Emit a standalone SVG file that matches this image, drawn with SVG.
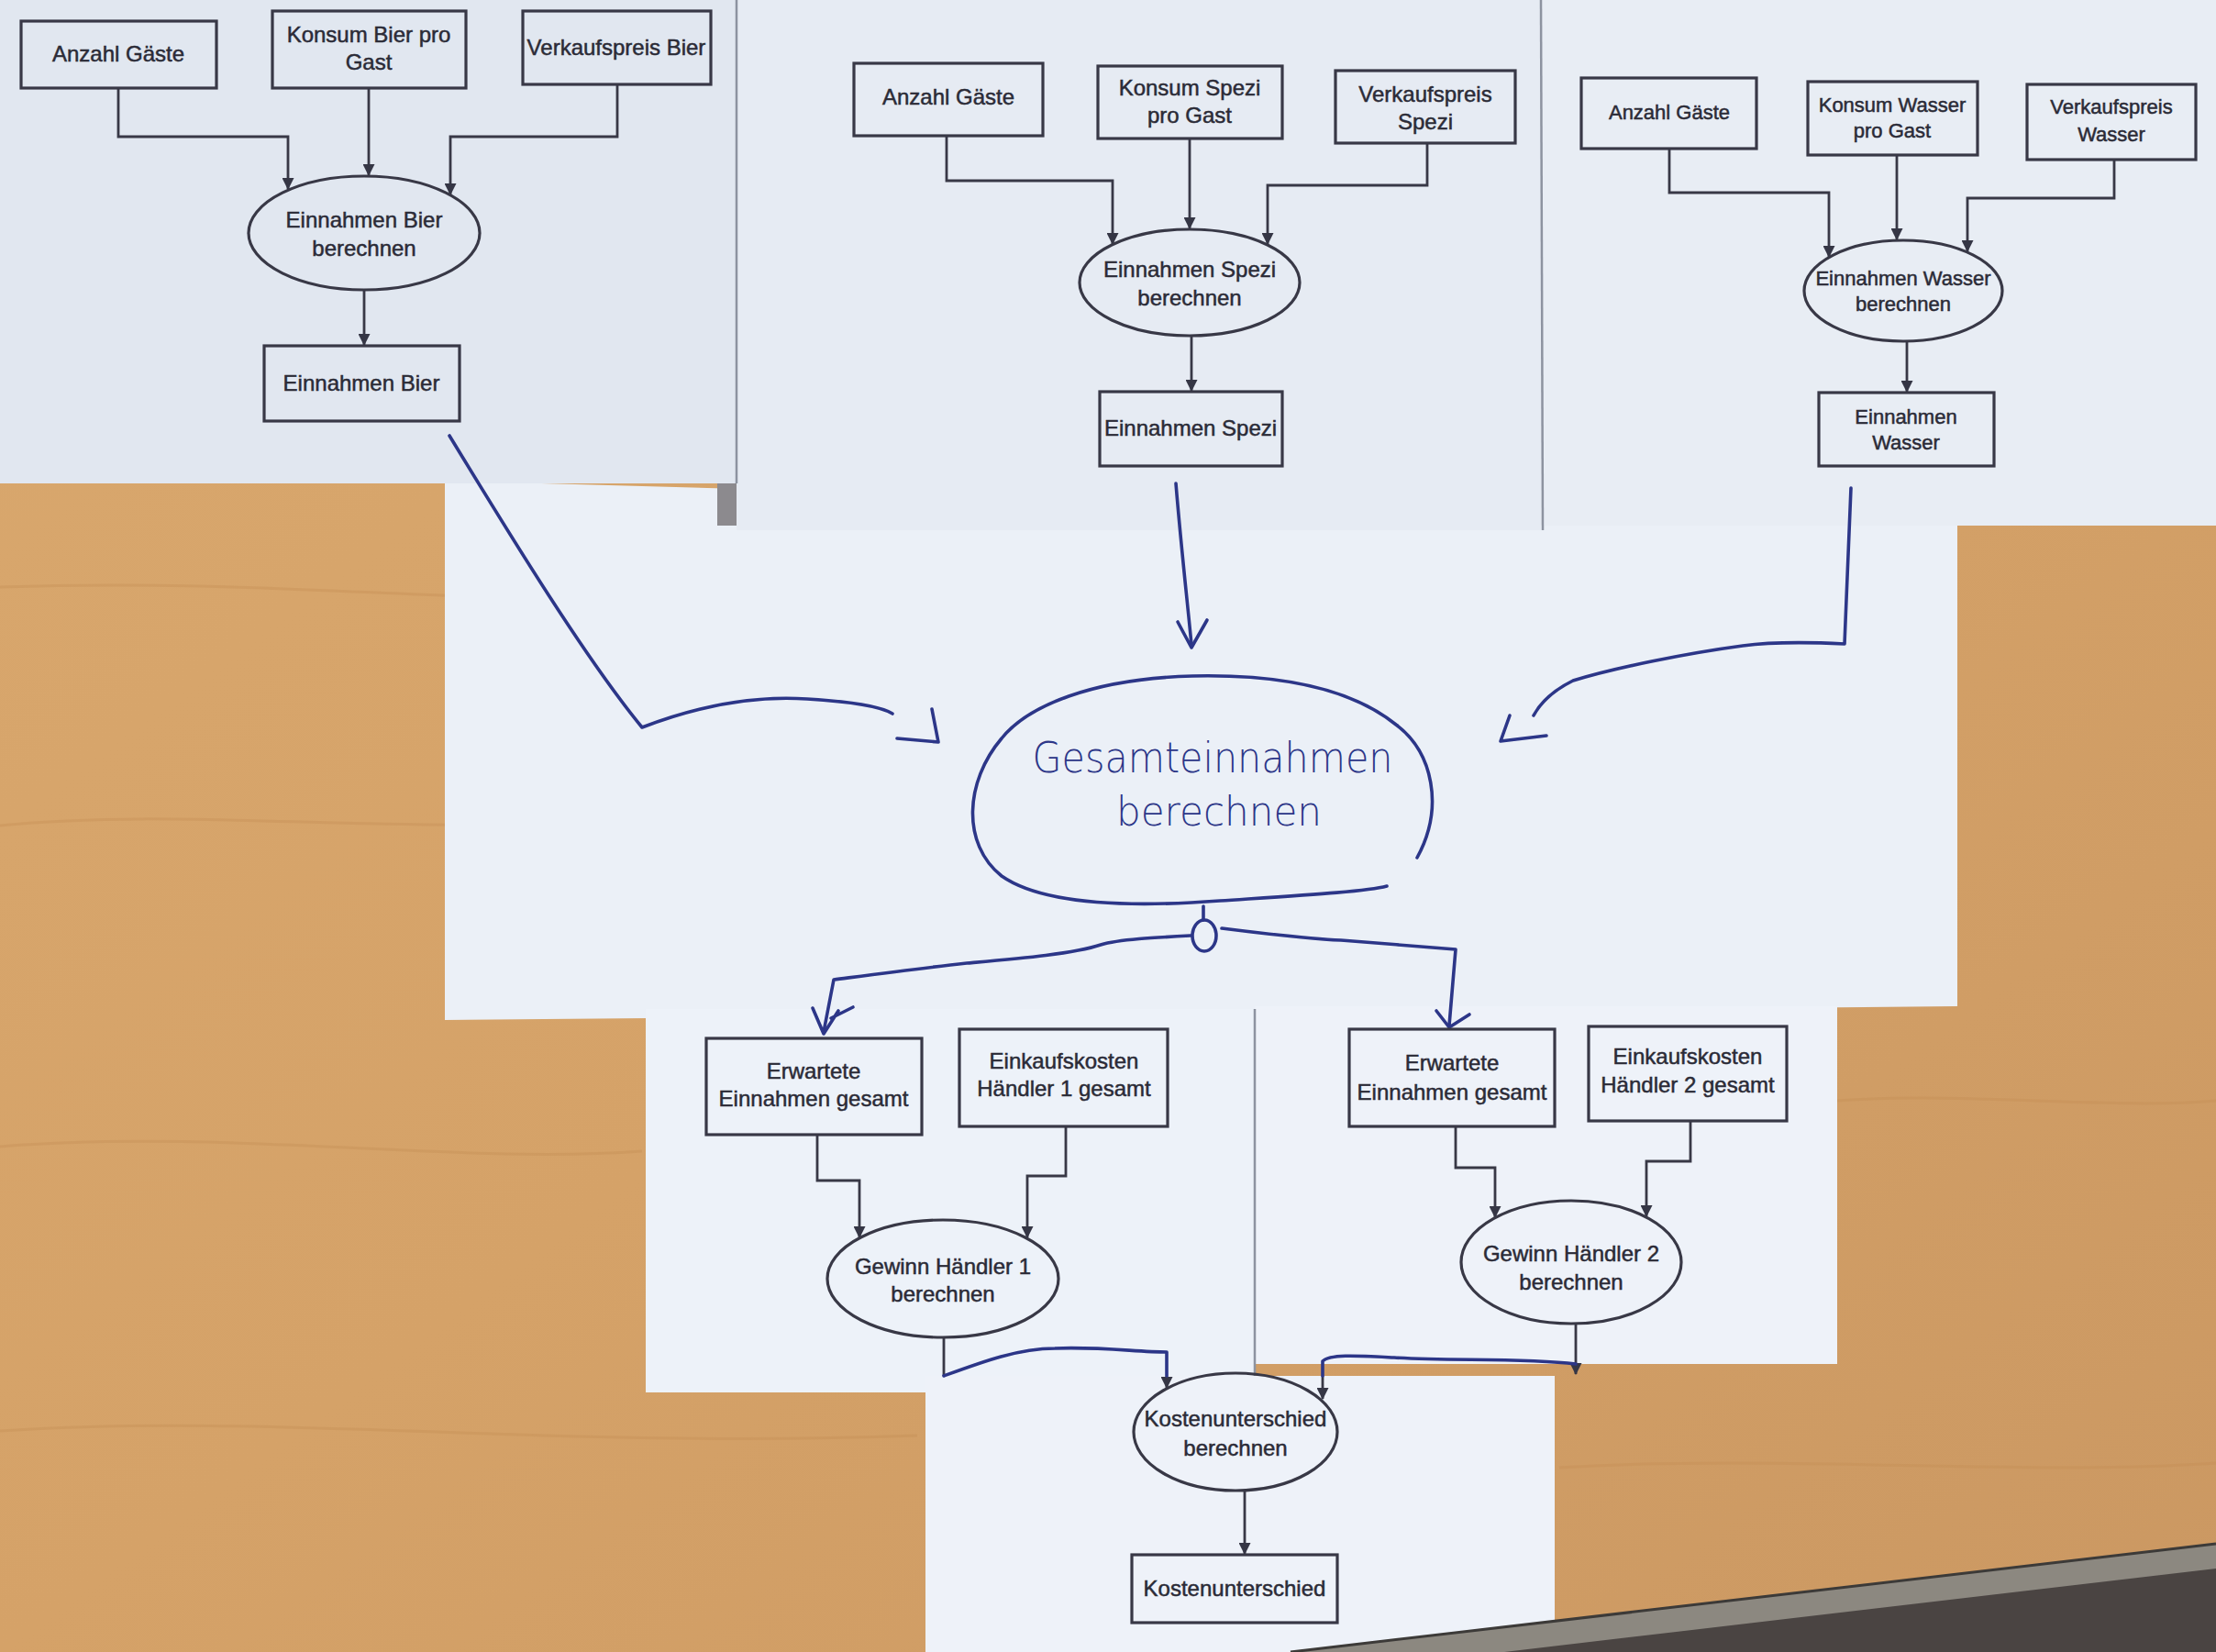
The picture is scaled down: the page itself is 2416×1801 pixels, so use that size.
<svg xmlns="http://www.w3.org/2000/svg" width="2416" height="1801" viewBox="0 0 2416 1801">
<defs>
  <linearGradient id="wood" x1="0" y1="0" x2="1" y2="1">
    <stop offset="0" stop-color="#d9a86e"/>
    <stop offset="0.5" stop-color="#d5a268"/>
    <stop offset="1" stop-color="#cb9862"/>
  </linearGradient>
  <marker id="arr" viewBox="0 0 12 12" refX="11" refY="6" markerWidth="13" markerHeight="13" markerUnits="userSpaceOnUse" orient="auto">
    <path d="M0,0 L12,6 L0,12 Z" fill="#353645"/>
  </marker>
  <style>
    .box{fill:none;stroke:#383846;stroke-width:3.2}
    .ell{fill:none;stroke:#383846;stroke-width:3.2}
    .t{font-family:"Liberation Sans",Arial,sans-serif;font-size:24px;fill:#2b2b37;stroke:#2b2b37;stroke-width:0.5;text-anchor:middle}
    .ts{font-family:"Liberation Sans",Arial,sans-serif;font-size:22px;fill:#2b2b37;stroke:#2b2b37;stroke-width:0.5;text-anchor:middle}
    .con{fill:none;stroke:#383846;stroke-width:2.8}
    .blue{fill:none;stroke:#2c3688;stroke-width:3.6;stroke-linecap:round;stroke-linejoin:round}
    .hw{font-family:"DejaVu Sans","Liberation Sans",sans-serif;font-weight:200;fill:#2c3688;text-anchor:middle}
    .edge{stroke:#8d93a0;stroke-width:2.5}
  </style>
</defs>

<!-- background: wood table -->
<rect x="0" y="0" width="2416" height="1801" fill="url(#wood)"/>
<g stroke="#c28c52" stroke-width="3" opacity="0.35" fill="none">
  <path d="M0,640 C300,630 500,660 700,650"/>
  <path d="M0,900 C200,880 400,910 700,895"/>
  <path d="M0,1250 C250,1230 500,1270 700,1255"/>
  <path d="M0,1560 C300,1540 600,1580 1000,1565"/>
  <path d="M2003,1200 C2150,1190 2300,1210 2416,1200"/>
  <path d="M1700,1600 C1950,1585 2200,1610 2416,1595"/>
</g>

<!-- papers -->
<g id="papers">
  <polygon points="485,524 2134,570 2134,1097 485,1112" fill="#ebf0f7"/>
  <rect x="0" y="0" width="803" height="527" fill="#e1e7f0"/>
  <rect x="803" y="0" width="877" height="578" fill="#e6ebf3"/>
  <rect x="1680" y="0" width="736" height="573" fill="#e8edf4"/>
  <rect x="704" y="1100" width="664" height="418" fill="#edf2f9"/>
  <rect x="1368" y="1097" width="635" height="390" fill="#eef2f9"/>
  <rect x="1009" y="1500" width="686" height="301" fill="#eef2f9"/>
  <line class="edge" x1="803" y1="0" x2="803" y2="527"/>
  <line class="edge" x1="1680" y1="0" x2="1682" y2="578"/>
  <line class="edge" x1="1368" y1="1100" x2="1368" y2="1500"/>
  <rect x="782" y="527" width="21" height="46" fill="#8c8a8e"/>
</g>

<!-- bottom-right dark edge -->
<polygon points="2416,1683 1407,1801 2416,1801" fill="#8c8880"/>
<polygon points="2416,1710 1640,1801 2416,1801" fill="#4a4442"/>
<line x1="2416" y1="1683" x2="1407" y2="1801" stroke="#3c3a38" stroke-width="3"/>

<!-- connectors -->
<g id="connectors">
  <!-- Bier -->
  <path class="con" d="M129,96 V149 H314 V206" marker-end="url(#arr)"/>
  <path class="con" d="M402,96 V191" marker-end="url(#arr)"/>
  <path class="con" d="M673,92 V149 H491 V212" marker-end="url(#arr)"/>
  <path class="con" d="M397,316 V376" marker-end="url(#arr)"/>
  <!-- Spezi -->
  <path class="con" d="M1032,148 V197 H1213 V266" marker-end="url(#arr)"/>
  <path class="con" d="M1297,151 V249" marker-end="url(#arr)"/>
  <path class="con" d="M1556,156 V202 H1382 V266" marker-end="url(#arr)"/>
  <path class="con" d="M1299,366 V426" marker-end="url(#arr)"/>
  <!-- Wasser -->
  <path class="con" d="M1820,162 V210 H1994 V280" marker-end="url(#arr)"/>
  <path class="con" d="M2068,169 V261" marker-end="url(#arr)"/>
  <path class="con" d="M2305,174 V216 H2145 V274" marker-end="url(#arr)"/>
  <path class="con" d="M2079,372 V427" marker-end="url(#arr)"/>
  <!-- Haendler 1 -->
  <path class="con" d="M891,1237 V1287 H937 V1349" marker-end="url(#arr)"/>
  <path class="con" d="M1162,1228 V1282 H1120 V1349" marker-end="url(#arr)"/>
  <!-- Haendler 2 -->
  <path class="con" d="M1587,1228 V1273 H1630 V1327" marker-end="url(#arr)"/>
  <path class="con" d="M1843,1222 V1266 H1795 V1326" marker-end="url(#arr)"/>
  <!-- Gewinn -> Kostenunterschied -->
  <path class="con" d="M1029,1458 V1500"/>
  <path class="con" d="M1718,1443 V1498" marker-end="url(#arr)"/>
  <path class="con" d="M1272,1500 V1513" marker-end="url(#arr)"/>
  <path class="con" d="M1442,1500 V1525" marker-end="url(#arr)"/>
  <path class="con" d="M1357,1625 V1694" marker-end="url(#arr)"/>

  <!-- hand-drawn (blue) -->
  <path class="blue" d="M490,475 C560,590 640,720 700,793 C760,770 820,758 880,762 C930,765 960,770 973,778"/>
  <path class="blue" d="M1016,773 L1023,809 L978,805"/>
  <path class="blue" d="M1282,527 C1288,600 1295,660 1299,703"/>
  <path class="blue" d="M1284,678 L1299,706 L1316,676"/>
  <path class="blue" d="M2018,532 C2015,600 2013,660 2011,702 C1970,700 1930,700 1900,704 C1840,712 1760,728 1715,742 C1695,752 1680,765 1672,780"/>
  <path class="blue" d="M1646,780 L1636,808 L1686,802"/>
  <path class="blue" d="M1312,988 V1003"/>
  <ellipse class="blue" cx="1313" cy="1020" rx="13" ry="17"/>
  <path class="blue" d="M1299,1020 C1260,1022 1220,1024 1200,1030 C1170,1040 1110,1045 1054,1050 C1000,1056 940,1064 909,1068 L898,1125"/>
  <path class="blue" d="M886,1099 L898,1127 L914,1102 M906,1110 L930,1098"/>
  <path class="blue" d="M1332,1012 C1380,1018 1430,1024 1462,1025 C1500,1028 1550,1032 1587,1035 L1580,1118"/>
  <path class="blue" d="M1566,1102 L1580,1120 L1602,1106"/>
  <path class="blue" d="M1029,1500 C1070,1485 1110,1470 1150,1470 C1200,1468 1240,1474 1272,1474 V1500"/>
  <path class="blue" d="M1718,1487 C1660,1480 1580,1484 1520,1480 C1480,1478 1450,1476 1442,1484 V1500"/>
</g>

<!-- nodes: top-left (Bier) -->
<g id="bier_anzahl"><rect class="box" x="23" y="23" width="213" height="73"/><text class="t" x="129" y="67">Anzahl Gäste</text></g>
<g id="bier_konsum"><rect class="box" x="297" y="12" width="211" height="84"/><text class="t" x="402" y="46">Konsum Bier pro</text><text class="t" x="402" y="76">Gast</text></g>
<g id="bier_preis"><rect class="box" x="570" y="12" width="205" height="80"/><text class="t" x="672" y="60">Verkaufspreis Bier</text></g>
<g id="bier_calc"><ellipse class="ell" cx="397" cy="254" rx="126" ry="62"/><text class="t" x="397" y="248">Einnahmen Bier</text><text class="t" x="397" y="279">berechnen</text></g>
<g id="bier_einnahmen"><rect class="box" x="288" y="377" width="213" height="82"/><text class="t" x="394" y="426">Einnahmen Bier</text></g>

<!-- nodes: top-middle (Spezi) -->
<g id="spezi_anzahl"><rect class="box" x="931" y="69" width="206" height="79"/><text class="t" x="1034" y="114">Anzahl Gäste</text></g>
<g id="spezi_konsum"><rect class="box" x="1197" y="72" width="201" height="79"/><text class="t" x="1297" y="104">Konsum Spezi</text><text class="t" x="1297" y="134">pro Gast</text></g>
<g id="spezi_preis"><rect class="box" x="1456" y="77" width="196" height="79"/><text class="t" x="1554" y="111">Verkaufspreis</text><text class="t" x="1554" y="141">Spezi</text></g>
<g id="spezi_calc"><ellipse class="ell" cx="1297" cy="308" rx="120" ry="58"/><text class="t" x="1297" y="302">Einnahmen Spezi</text><text class="t" x="1297" y="333">berechnen</text></g>
<g id="spezi_einnahmen"><rect class="box" x="1199" y="427" width="199" height="81"/><text class="t" x="1298" y="475">Einnahmen Spezi</text></g>

<!-- nodes: top-right (Wasser) -->
<g id="wasser_anzahl"><rect class="box" x="1724" y="85" width="191" height="77"/><text class="ts" x="1820" y="130">Anzahl Gäste</text></g>
<g id="wasser_konsum"><rect class="box" x="1971" y="89" width="185" height="80"/><text class="ts" x="2063" y="122">Konsum Wasser</text><text class="ts" x="2063" y="150">pro Gast</text></g>
<g id="wasser_preis"><rect class="box" x="2210" y="92" width="184" height="82"/><text class="ts" x="2302" y="124">Verkaufspreis</text><text class="ts" x="2302" y="154">Wasser</text></g>
<g id="wasser_calc"><ellipse class="ell" cx="2075" cy="317" rx="108" ry="55"/><text class="ts" x="2075" y="311">Einnahmen Wasser</text><text class="ts" x="2075" y="339">berechnen</text></g>
<g id="wasser_einnahmen"><rect class="box" x="1983" y="428" width="191" height="80"/><text class="ts" x="2078" y="462">Einnahmen</text><text class="ts" x="2078" y="490">Wasser</text></g>

<!-- node: hand-drawn Gesamteinnahmen -->
<g id="gesamt_calc">
  <path class="blue" d="M1545,935 C1575,880 1562,820 1522,790 C1470,748 1390,735 1300,737 C1190,740 1120,770 1092,805 C1052,852 1048,920 1092,955 C1142,990 1250,988 1330,982 C1420,976 1490,972 1512,966"/>
  <text class="hw" x="1322" y="842" font-size="46" textLength="393" lengthAdjust="spacingAndGlyphs">Gesamteinnahmen</text>
  <text class="hw" x="1329" y="900" font-size="44" textLength="224" lengthAdjust="spacingAndGlyphs">berechnen</text>
</g>

<!-- nodes: lower-left (Haendler 1) -->
<g id="h1_erwartet"><rect class="box" x="770" y="1132" width="235" height="105"/><text class="t" x="887" y="1176">Erwartete</text><text class="t" x="887" y="1206">Einnahmen gesamt</text></g>
<g id="h1_einkauf"><rect class="box" x="1046" y="1122" width="227" height="106"/><text class="t" x="1160" y="1165">Einkaufskosten</text><text class="t" x="1160" y="1195">Händler 1 gesamt</text></g>
<g id="h1_gewinn"><ellipse class="ell" cx="1028" cy="1394" rx="126" ry="64"/><text class="t" x="1028" y="1389">Gewinn Händler 1</text><text class="t" x="1028" y="1419">berechnen</text></g>

<!-- nodes: lower-right (Haendler 2) -->
<g id="h2_erwartet"><rect class="box" x="1471" y="1122" width="224" height="106"/><text class="t" x="1583" y="1167">Erwartete</text><text class="t" x="1583" y="1199">Einnahmen gesamt</text></g>
<g id="h2_einkauf"><rect class="box" x="1732" y="1119" width="216" height="103"/><text class="t" x="1840" y="1160">Einkaufskosten</text><text class="t" x="1840" y="1191">Händler 2 gesamt</text></g>
<g id="h2_gewinn"><ellipse class="ell" cx="1713" cy="1376" rx="120" ry="67"/><text class="t" x="1713" y="1375">Gewinn Händler 2</text><text class="t" x="1713" y="1406">berechnen</text></g>

<!-- nodes: bottom -->
<g id="kosten_calc"><ellipse class="ell" cx="1347" cy="1561" rx="111" ry="64"/><text class="t" x="1347" y="1555">Kostenunterschied</text><text class="t" x="1347" y="1587">berechnen</text></g>
<g id="kosten"><rect class="box" x="1234" y="1695" width="224" height="74"/><text class="t" x="1346" y="1740">Kostenunterschied</text></g>
</svg>
